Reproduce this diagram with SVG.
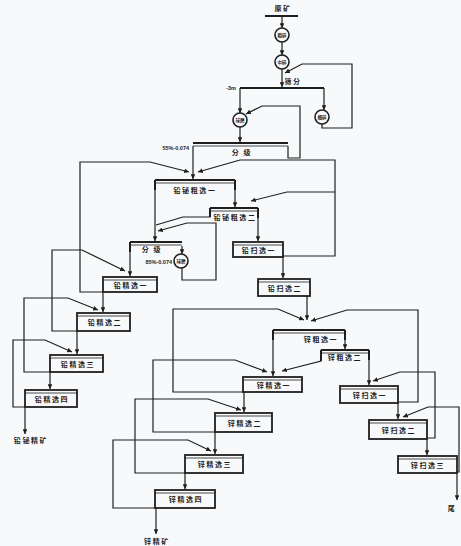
<svg xmlns="http://www.w3.org/2000/svg" width="461" height="546" viewBox="0 0 461 546">
<defs>
<style>
.bg{fill:#f7f9fb}
.ln{fill:none;stroke:#1e1e1e;stroke-width:1.2}
.bx{fill:none;stroke:#1e1e1e;stroke-width:1.8}
.top{fill:none;stroke:#1e1e1e;stroke-width:2}
.thin{fill:none;stroke:#1e1e1e;stroke-width:0.8}
.cir{fill:#fafbfd;stroke:#1e1e1e;stroke-width:1.6}
.t{font-family:"Noto Sans CJK SC","Noto Sans",sans-serif;font-weight:bold;font-size:7px;fill:#1e1e1e;letter-spacing:1.6px;text-anchor:middle}
.s{font-family:"Noto Sans CJK SC","Noto Sans",sans-serif;font-weight:bold;font-size:4.5px;fill:#1e1e1e;text-anchor:middle}
.n{font-family:"Liberation Sans",sans-serif;font-weight:bold;font-size:5.5px;fill:#1e1e1e;text-anchor:end}
</style>
<marker id="ah" viewBox="0 0 6 6" refX="6" refY="3" markerWidth="4" markerHeight="4" orient="auto"><path d="M0,0 L6,3 L0,6z" fill="#1e1e1e"/></marker>
</defs>
<rect class="bg" x="0" y="0" width="461" height="546"/>

<g id="connectors">
<path class="ln" d="M282,16 V28" marker-end="url(#ah)"/>
<path class="ln" d="M282,42 V55" marker-end="url(#ah)"/>
<path class="ln" d="M282,69 V87" marker-end="url(#ah)"/>
<path class="ln" d="M322,124 V128 H352 V64 H302 L285,73" marker-end="url(#ah)"/>
<path class="ln" d="M324,88 V110" marker-end="url(#ah)"/>
<path class="ln" d="M240,88 V113" marker-end="url(#ah)"/>
<path class="ln" d="M240,127 V142" marker-end="url(#ah)"/>
<path class="ln" d="M288,146 V158 H300 V106 H262 L246,114" marker-end="url(#ah)"/>
<path class="ln" d="M193,146 V179" marker-end="url(#ah)"/>
<path class="ln" d="M103,292 H80 V162 H150 L189,172" marker-end="url(#ah)"/>
<path class="ln" d="M283,256 H335 V160 H240 L198,172" marker-end="url(#ah)"/>
<path class="ln" d="M335,192 H287 L251,201" marker-end="url(#ah)"/>
<path class="ln" d="M155,183 V241" marker-end="url(#ah)"/>
<path class="ln" d="M235,183 V207" marker-end="url(#ah)"/>
<path class="ln" d="M210,211 V217 H183 L156,225"/>
<path class="ln" d="M182,246 V254" marker-end="url(#ah)"/>
<path class="ln" d="M182,268 V280 H216 V223 H187 L158,231" marker-end="url(#ah)"/>
<path class="ln" d="M258,211 V241" marker-end="url(#ah)"/>
<path class="ln" d="M283,257 V278" marker-end="url(#ah)"/>
<path class="ln" d="M130,246 V276" marker-end="url(#ah)"/>
<path class="ln" d="M77,331 H52 V250 H82 L125,271" marker-end="url(#ah)"/>
<path class="ln" d="M103,292 V312" marker-end="url(#ah)"/>
<path class="ln" d="M50,372 H24 V298 H68 L98,310" marker-end="url(#ah)"/>
<path class="ln" d="M77,331 V354" marker-end="url(#ah)"/>
<path class="ln" d="M25,407 H13 V340 H45 L72,352" marker-end="url(#ah)"/>
<path class="ln" d="M50,372 V389" marker-end="url(#ah)"/>
<path class="ln" d="M25,407 V434" marker-end="url(#ah)"/>
<path class="ln" d="M307,296 V320" marker-end="url(#ah)"/>
<path class="ln" d="M243,392 H173 V309 H278 L304,320" marker-end="url(#ah)"/>
<path class="ln" d="M398,402 H418 V310 H347 L311,321" marker-end="url(#ah)"/>
<path class="ln" d="M273,333 V376" marker-end="url(#ah)"/>
<path class="ln" d="M345,333 V349" marker-end="url(#ah)"/>
<path class="ln" d="M321,353 V361 L282,371" marker-end="url(#ah)"/>
<path class="ln" d="M215,432 H153 V360 H235 L267,372" marker-end="url(#ah)"/>
<path class="ln" d="M369,353 V385" marker-end="url(#ah)"/>
<path class="ln" d="M427,438 H435 V372 H400 L373,381" marker-end="url(#ah)"/>
<path class="ln" d="M398,403 V419" marker-end="url(#ah)"/>
<path class="ln" d="M457,472 H459 V407 H428 L403,417" marker-end="url(#ah)"/>
<path class="ln" d="M427,439 V455" marker-end="url(#ah)"/>
<path class="ln" d="M457,473 V500" marker-end="url(#ah)"/>
<path class="ln" d="M244,392 V412" marker-end="url(#ah)"/>
<path class="ln" d="M185,473 H135 V399 H208 L241,410" marker-end="url(#ah)"/>
<path class="ln" d="M215,432 V454" marker-end="url(#ah)"/>
<path class="ln" d="M155,508 H113 V440 H188 L211,451" marker-end="url(#ah)"/>
<path class="ln" d="M185,473 V489" marker-end="url(#ah)"/>
<path class="ln" d="M156,508 V534" marker-end="url(#ah)"/>
</g>

<g id="ore">
<path class="top" d="M265,16 H298"/>
<text class="t" x="283" y="11">原矿</text>
</g>
<g id="crush1"><circle class="cir" cx="282" cy="35" r="7"/><text class="s" x="282" y="36.6">粗碎</text></g>
<g id="crush2"><circle class="cir" cx="282" cy="62" r="7"/><text class="s" x="282" y="63.6">中碎</text></g>
<g id="crush3"><circle class="cir" cx="322" cy="117" r="7"/><text class="s" x="322" y="118.6">细碎</text></g>
<g id="screen">
<path class="top" d="M240,88 H324"/>
<text class="t" x="293" y="84">筛分</text>
<text class="n" x="236" y="90">-3m</text>
</g>
<g id="mill1"><circle class="cir" cx="240" cy="120" r="7"/><text class="s" x="240" y="121.6">球磨</text></g>
<g id="classify1">
<path class="top" d="M193,143 H288"/><path class="thin" d="M193,146 H288"/>
<text class="t" x="242" y="155">分 级</text>
<text class="n" x="189" y="150">55%-0.074</text>
</g>
<g id="pb_rough1">
<path class="top" d="M155,180 H235"/><path class="thin" d="M155,183 H235"/>
<path class="top" d="M155,180 V190 M235,180 V190"/>
<text class="t" x="195" y="193">铅铋粗选一</text>
</g>
<g id="pb_rough2">
<path class="top" d="M210,208 H258"/><path class="thin" d="M210,211 H258"/>
<path class="top" d="M210,208 V217 M258,208 V218"/>
<text class="t" x="235" y="220">铅铋粗选二</text>
</g>
<g id="classify2">
<path class="top" d="M130,242 H182"/><path class="thin" d="M130,245 H182"/>
<path class="top" d="M130,242 V252"/>
<text class="t" x="152" y="252">分 级</text>
<text class="n" x="172" y="264">85%-0.074</text>
</g>
<g id="mill2"><circle class="cir" cx="181" cy="261" r="7"/><text class="s" x="181" y="262.6">球磨</text></g>
<g id="pb_scav1"><rect class="bx" x="233" y="242" width="50" height="15"/><path class="thin" d="M233,245 H283"/><text class="t" x="259" y="253">铅扫选一</text></g>
<g id="pb_scav2"><rect class="bx" x="258" y="279" width="52" height="17"/><path class="thin" d="M258,282 H310"/><text class="t" x="285" y="291">铅扫选二</text></g>
<g id="pb_clean1"><rect class="bx" x="103" y="277" width="54" height="15"/><path class="thin" d="M103,280 H157"/><text class="t" x="131" y="288">铅精选一</text></g>
<g id="pb_clean2"><rect class="bx" x="77" y="313" width="53" height="18"/><path class="thin" d="M77,316 H130"/><text class="t" x="105" y="325">铅精选二</text></g>
<g id="pb_clean3"><rect class="bx" x="50" y="355" width="53" height="17"/><path class="thin" d="M50,358 H103"/><text class="t" x="78" y="367">铅精选三</text></g>
<g id="pb_clean4"><rect class="bx" x="25" y="390" width="52" height="17"/><path class="thin" d="M25,393 H77"/><text class="t" x="52" y="402">铅精选四</text></g>
<g id="pb_conc"><text class="t" x="31" y="443">铅铋精矿</text></g>

<g id="zn_rough1">
<path class="top" d="M273,330 H345"/><path class="thin" d="M273,333 H345"/>
<path class="top" d="M273,330 V340 M345,330 V340"/>
<text class="t" x="321" y="342">锌粗选一</text>
</g>
<g id="zn_rough2">
<path class="top" d="M321,350 H369"/><path class="thin" d="M321,353 H369"/>
<path class="top" d="M321,350 V361 M369,350 V360"/>
<text class="t" x="345" y="360">锌粗选二</text>
</g>
<g id="zn_scav1"><rect class="bx" x="340" y="386" width="58" height="17"/><path class="thin" d="M340,389 H398"/><text class="t" x="370" y="398">锌扫选一</text></g>
<g id="zn_scav2"><rect class="bx" x="369" y="420" width="58" height="19"/><path class="thin" d="M369,423 H427"/><text class="t" x="399" y="433">锌扫选二</text></g>
<g id="zn_scav3"><rect class="bx" x="398" y="456" width="59" height="17"/><path class="thin" d="M398,459 H457"/><text class="t" x="428" y="468">锌扫选三</text></g>
<g id="tail"><text class="t" x="452" y="511">尾</text></g>
<g id="zn_clean1"><rect class="bx" x="243" y="377" width="59" height="15"/><path class="thin" d="M243,380 H302"/><text class="t" x="274" y="388">锌精选一</text></g>
<g id="zn_clean2"><rect class="bx" x="215" y="413" width="57" height="19"/><path class="thin" d="M215,416 H272"/><text class="t" x="245" y="426">锌精选二</text></g>
<g id="zn_clean3"><rect class="bx" x="185" y="455" width="58" height="18"/><path class="thin" d="M185,458 H243"/><text class="t" x="215" y="467">锌精选三</text></g>
<g id="zn_clean4"><rect class="bx" x="155" y="490" width="60" height="18"/><path class="thin" d="M155,493 H215"/><text class="t" x="186" y="502">锌精选四</text></g>
<g id="zn_conc"><text class="t" x="157" y="544">锌精矿</text></g>
</svg>
